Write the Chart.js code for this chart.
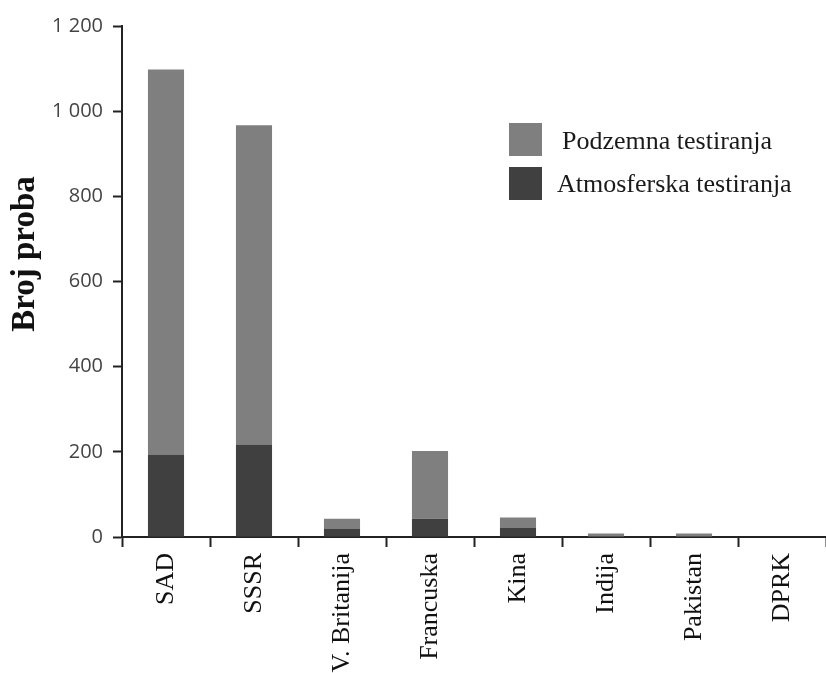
<!DOCTYPE html>
<html>
<head>
<meta charset="utf-8">
<script src="https://cdn.jsdelivr.net/npm/chart.js@4.4.0/dist/chart.umd.min.js"></script>
<style>
  html, body { margin: 0; padding: 0; background: #ffffff; }
  #wrap { width: 826px; height: 673px; position: relative; }
</style>
</head>
<body>
<div id="wrap"><canvas id="c" width="826" height="673"></canvas></div>
<script>
const categories = ['SAD', 'SSSR', 'V. Britanija', 'Francuska', 'Kina', 'Indija', 'Pakistan', 'DPRK'];
const atmospheric = [194, 217, 20, 43, 21, 0, 0, 0];
const underground = [904, 750, 23, 159, 25, 8, 8, 0];
const seriesLabels = ['Atmosferska testiranja', 'Podzemna testiranja'];
const yTickValues = [0, 200, 400, 600, 800, 1000, 1200];
const yTickLabels = ['0', '200', '400', '600', '800', '1 000', '1 200'];
const yTitle = 'Broj proba';

const DARK = '#404040';
const GRAY = '#7f7f7f';
const AXIS = '#222222';

const overlayPlugin = {
  id: 'overlay',
  afterDraw(chart) {
    const ctx = chart.ctx;
    ctx.save();
    // y-axis title
    ctx.translate(25, 254);
    ctx.rotate(-Math.PI / 2);
    ctx.font = 'bold 33px "Liberation Serif", "Times New Roman", serif';
    ctx.fillStyle = '#111111';
    ctx.textAlign = 'center';
    ctx.textBaseline = 'middle';
    ctx.fillText(yTitle, 0, 0);
    ctx.restore();

    // legend (underground on top, atmospheric below)
    const ds = chart.data.datasets;
    const items = [
      { label: ds[1].label, color: ds[1].backgroundColor, sy: 123, tx: 562, ty: 142 },
      { label: ds[0].label, color: ds[0].backgroundColor, sy: 167, tx: 557, ty: 185 }
    ];
    ctx.save();
    ctx.font = '26px "Liberation Serif", "Times New Roman", serif';
    ctx.textAlign = 'left';
    ctx.textBaseline = 'middle';
    items.forEach(it => {
      ctx.fillStyle = it.color;
      ctx.fillRect(509, it.sy, 33, 33);
      ctx.fillStyle = '#1a1a1a';
      ctx.fillText(it.label, it.tx, it.ty);
    });
    ctx.restore();
  }
};

new Chart(document.getElementById('c'), {
  type: 'bar',
  data: {
    labels: categories,
    datasets: [
      { label: seriesLabels[0], data: atmospheric, backgroundColor: DARK, borderWidth: 0 },
      { label: seriesLabels[1], data: underground, backgroundColor: GRAY, borderWidth: 0 }
    ]
  },
  options: {
    responsive: false,
    animation: false,
    devicePixelRatio: 1,
    layout: { padding: { top: 26, left: 0, right: 0, bottom: 0 } },
    plugins: { legend: { display: false }, tooltip: { enabled: false }, title: { display: false } },
    datasets: { bar: { categoryPercentage: 1.0, barPercentage: 0.41 } },
    scales: {
      x: {
        stacked: true,
        offset: true,
        grid: { offset: true, drawOnChartArea: false, drawTicks: true, tickLength: 10, tickWidth: 2, tickColor: AXIS },
        border: { display: true, color: AXIS, width: 2 },
        ticks: {
          color: '#111111',
          font: { family: '"Liberation Serif", "Times New Roman", serif', size: 26 },
          minRotation: 90, maxRotation: 90, autoSkip: false, padding: 6
        },
        afterFit(scale) {
          scale.height = 136;
          scale.paddingLeft = 0;
          scale.paddingRight = 0;
        }
      },
      y: {
        stacked: true,
        min: 0, max: 1200,
        afterBuildTicks(scale) {
          scale.ticks = yTickValues.map(v => ({ value: v }));
        },
        grid: { drawOnChartArea: false, drawTicks: true, tickLength: 9, tickWidth: 2, tickColor: AXIS },
        border: { display: true, color: AXIS, width: 2 },
        ticks: {
          color: '#444444',
          font: { family: '"Open Sans", "Noto Sans", sans-serif', size: 20 },
          padding: 10,
          callback(value) {
            const i = yTickValues.indexOf(value);
            return i >= 0 ? yTickLabels[i] : '';
          }
        },
        afterFit(scale) {
          scale.width = 122;
          scale.paddingTop = 0;
          scale.paddingBottom = 0;
        }
      }
    }
  },
  plugins: [overlayPlugin]
});
</script>
</body>
</html>
